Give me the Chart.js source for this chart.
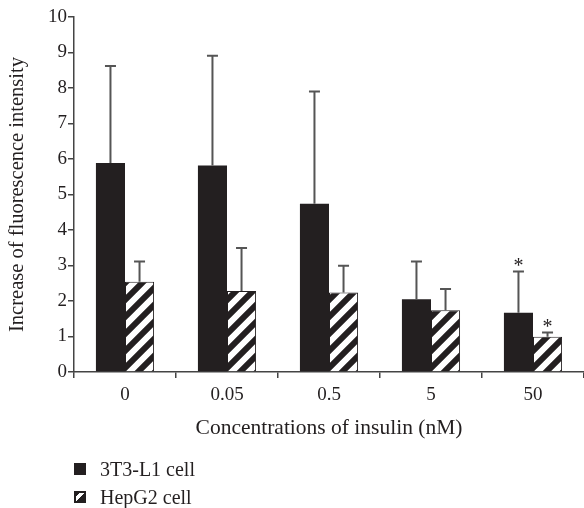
<!DOCTYPE html>
<html>
<head>
<meta charset="utf-8">
<script src="https://cdn.jsdelivr.net/npm/chart.js@4"></script>
<style>
  body { margin: 0; background: #fff; }
  #wrap { position: relative; width: 584px; height: 508px; }
  #wrap canvas { position: absolute; left: 0; top: 0; }
  .legend { position: absolute; left: 74px; top: 0; font: 20px "Liberation Serif", serif; color: #231f20; }
  .legend .item { position: absolute; left: 0; white-space: nowrap; height: 24px; line-height: 24px; }
  .legend .box { position: absolute; left: 0; top: 6px; width: 12px; height: 12px; box-sizing: border-box; }
  .legend .txt { position: absolute; left: 26px; top: 0; }
</style>
</head>
<body>
<div id="wrap">
  <canvas id="chart" width="584" height="508"></canvas>
  <div class="legend">
    <div class="item" style="top:457px"><span class="box" style="background:#231f20"></span><span class="txt">3T3-L1 cell</span></div>
    <div class="item" style="top:485px"><span class="box" style="border:2px solid #231f20;background:linear-gradient(135deg,#231f20 0 22%,#fff 22% 52%,#231f20 52%)"></span><span class="txt">HepG2 cell</span></div>
  </div>
</div>
<script>
// insulin concentrations (nM)
const labels = ['0', '0.05', '0.5', '5', '50'];

// mean fluorescence increase
const cell3T3 = [5.89, 5.82, 4.74, 2.05, 1.67];
const cellHepG2 = [2.54, 2.28, 2.24, 1.74, 0.99];

// standard deviation (upper error bar only)
const sd3T3 = [2.73, 3.09, 3.16, 1.06, 1.16];
const sdHepG2 = [0.57, 1.21, 0.75, 0.60, 0.12];

// significance marks
const star3T3 = ['', '', '', '', '*'];
const starHepG2 = ['', '', '', '', '*'];

const ink = '#231f20';
const serif = '"Liberation Serif", "Times New Roman", serif';

// diagonal "/" stripes
function makeHatch() {
    const s = 17;
    const c = document.createElement('canvas');
    c.width = s; c.height = s;
    const g = c.getContext('2d');
    g.fillStyle = '#fff';
    g.fillRect(0, 0, s, s);
    g.strokeStyle = ink;
    g.lineWidth = 6;
    g.beginPath();
    g.moveTo(-s, s); g.lineTo(s, -s);
    g.moveTo(0, s * 2); g.lineTo(s * 2, 0);
    g.moveTo(0, s); g.lineTo(s, 0);
    g.stroke();
    return g.createPattern(c, 'repeat');
}

const errorBars = {
    id: 'errorBars',
    afterDatasetsDraw(chart) {
        const ctx = chart.ctx;
        const y = chart.scales.y;
        const sds = [sd3T3, sdHepG2];
        const stars = [star3T3, starHepG2];
        ctx.save();
        chart.data.datasets.forEach((ds, i) => {
            const meta = chart.getDatasetMeta(i);
            meta.data.forEach((bar, j) => {
                const top = y.getPixelForValue(ds.data[j] + sds[i][j]);
                ctx.strokeStyle = '#555';
                ctx.lineWidth = 2;
                ctx.beginPath();
                ctx.moveTo(bar.x, bar.y);
                ctx.lineTo(bar.x, top);
                ctx.moveTo(bar.x - 5.5, top);
                ctx.lineTo(bar.x + 5.5, top);
                ctx.stroke();
                if (stars[i][j]) {
                    ctx.fillStyle = ink;
                    ctx.font = '20px ' + serif;
                    ctx.textAlign = 'center';
                    ctx.textBaseline = 'alphabetic';
                    ctx.fillText(stars[i][j], bar.x, top);
                }
            });
        });
        ctx.restore();
    }
};

new Chart(document.getElementById('chart'), {
    type: 'bar',
    data: {
        labels: labels,
        datasets: [{
            label: '3T3-L1 cell',
            data: cell3T3,
            backgroundColor: ink,
            borderWidth: 0
        }, {
            label: 'HepG2 cell',
            data: cellHepG2,
            backgroundColor: makeHatch(),
            borderColor: ink,
            borderWidth: 1
        }]
    },
    options: {
        responsive: false,
        animation: false,
        devicePixelRatio: 1,
        categoryPercentage: 0.57,
        barPercentage: 1,
        layout: { padding: { top: 17, right: 0, bottom: 66, left: 0 } },
        plugins: {
            legend: { display: false },
            tooltip: { enabled: false }
        },
        scales: {
            x: {
                offset: true,
                afterFit(scale) { scale.height = 70; },
                grid: { offset: true, drawOnChartArea: false, tickLength: 6, color: '#444', lineWidth: 1.5 },
                border: { color: '#444', width: 1.5 },
                ticks: { color: ink, font: { family: serif, size: 19 }, padding: 6 },
                title: {
                    display: true,
                    text: 'Concentrations of insulin (nM)',
                    color: ink,
                    font: { family: serif, size: 21.5 },
                    padding: { top: 0, bottom: 1 }
                }
            },
            y: {
                min: 0,
                max: 10,
                afterFit(scale) { scale.width = 74; },
                grid: { drawOnChartArea: false, tickLength: 6, color: '#444', lineWidth: 1.5 },
                border: { color: '#444', width: 1.5 },
                ticks: { stepSize: 1, color: ink, font: { family: serif, size: 19 }, padding: 1 },
                title: {
                    display: true,
                    text: 'Increase of fluorescence intensity',
                    color: ink,
                    font: { family: serif, size: 20.5 },
                    padding: { top: 5, bottom: 0 }
                }
            }
        }
    },
    plugins: [errorBars]
});
</script>
</body>
</html>
